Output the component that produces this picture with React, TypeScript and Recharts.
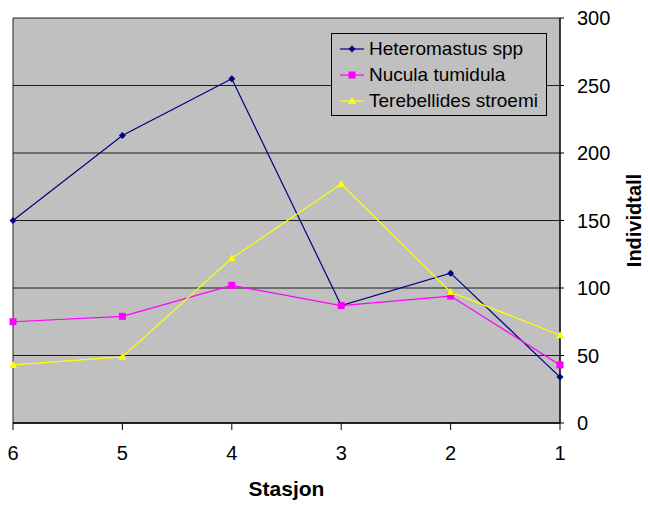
import React from 'react';
import { LineChart, Line, XAxis, YAxis, CartesianGrid, Legend } from 'recharts';

const stations = ['6', '5', '4', '3', '2', '1'];
const heteromastus = [150, 213, 255, 87, 111, 34];
const nucula = [75, 79, 102, 87, 94, 43];
const terebellides = [43, 49, 122, 177, 97, 65];
const yTicks = [0, 50, 100, 150, 200, 250, 300];

const SERIES = [
  { key: 'het', name: 'Heteromastus spp', color: '#000080', marker: 'diamond' },
  { key: 'nuc', name: 'Nucula tumidula', color: '#FF00FF', marker: 'square' },
  { key: 'ter', name: 'Terebellides stroemi', color: '#FFFF00', marker: 'triangle' },
];

const data = stations.map((s, i) => ({
  stasjon: s,
  het: heteromastus[i],
  nuc: nucula[i],
  ter: terebellides[i],
}));

const FONT = '"Liberation Sans", Arial, sans-serif';

function Marker({ type, cx, cy, color }: { type: string; cx: number; cy: number; color: string }) {
  if (type === 'diamond') {
    return <path d={`M${cx},${cy - 3.5}L${cx + 3.5},${cy}L${cx},${cy + 3.5}L${cx - 3.5},${cy}Z`} fill={color} />;
  }
  if (type === 'square') {
    return <rect x={cx - 3.5} y={cy - 3.5} width={7} height={7} fill={color} />;
  }
  return <path d={`M${cx},${cy - 4}L${cx + 4},${cy + 3}L${cx - 4},${cy + 3}Z`} fill={color} />;
}

function makeDot(type: string, color: string) {
  return (props: any) => (
    <Marker key={`${type}-${props.index}`} type={type} cx={props.cx} cy={props.cy} color={color} />
  );
}

function LegendBox() {
  return (
    <div
      style={{
        border: '1px solid #000',
        background: '#C0C0C0',
        width: 214,
        height: 79,
        paddingTop: 2,
        boxSizing: 'content-box',
        fontFamily: FONT,
        fontSize: 19,
        color: '#000',
      }}
    >
      {SERIES.map(s => (
        <div key={s.key} style={{ display: 'flex', alignItems: 'center', height: 26, paddingLeft: 8 }}>
          <svg width={24} height={12} style={{ marginRight: 5 }}>
            <line x1={0} y1={6} x2={24} y2={6} stroke={s.color} strokeWidth={1.2} />
            <Marker type={s.marker} cx={12} cy={6} color={s.color} />
          </svg>
          <span style={{ whiteSpace: 'nowrap' }}>{s.name}</span>
        </div>
      ))}
    </div>
  );
}

export default function App() {
  return (
    <div style={{ position: 'absolute', left: 0, top: 0, width: 648, height: 507, background: '#fff' }}>
      <LineChart width={648} height={507} data={data} margin={{ top: 18, right: 0, left: 13, bottom: 0 }}>
        <CartesianGrid
          fill="#C0C0C0"
          stroke="#000"
          strokeOpacity={0.85}
          verticalCoordinatesGenerator={({ offset }: any) => [offset.left]}
        />
        <XAxis
          dataKey="stasjon"
          height={84}
          tickSize={7}
          tickMargin={16}
          axisLine={{ stroke: '#000', strokeWidth: 1.5 }}
          tickLine={{ stroke: '#000' }}
          tick={{ fill: '#000', fontSize: 20, fontFamily: FONT }}
          label={{
            value: 'Stasjon',
            position: 'insideBottom',
            offset: 11,
            style: { fill: '#000', fontSize: 21, fontWeight: 'bold', fontFamily: FONT },
          }}
        />
        <YAxis
          orientation="right"
          width={88}
          domain={[0, 300]}
          ticks={yTicks}
          tickSize={4}
          tickMargin={13}
          axisLine={{ stroke: '#000', strokeWidth: 1.5 }}
          tickLine={{ stroke: '#000' }}
          tick={{ fill: '#000', fontSize: 20, fontFamily: FONT, textAnchor: 'start' }}
          label={{
            value: 'Individtall',
            angle: -90,
            position: 'center',
            dx: 30,
            style: { fill: '#000', fontSize: 20, fontWeight: 'bold', fontFamily: FONT, textAnchor: 'middle' },
          }}
        />
        <Legend
          layout="vertical"
          align="center"
          verticalAlign="middle"
          content={() => <LegendBox />}
          wrapperStyle={{ position: 'absolute', left: 331, top: 33, width: 'auto', height: 'auto' }}
        />
        {SERIES.map(s => (
          <Line
            key={s.key}
            dataKey={s.key}
            name={s.name}
            stroke={s.color}
            strokeWidth={1.2}
            dot={makeDot(s.marker, s.color)}
            activeDot={false}
            isAnimationActive={false}
          />
        ))}
      </LineChart>
    </div>
  );
}
